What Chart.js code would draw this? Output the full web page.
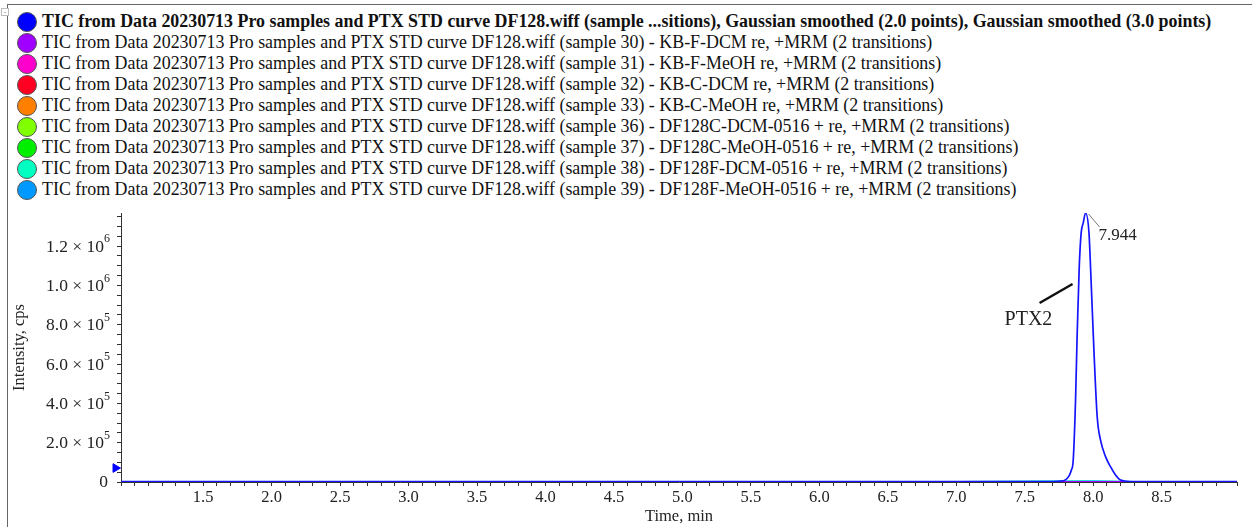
<!DOCTYPE html>
<html>
<head>
<meta charset="utf-8">
<script src="https://cdn.jsdelivr.net/npm/chart.js@4.4.0/dist/chart.umd.min.js"></script>
<style>
    html, body { margin: 0; padding: 0; background: #fff; }
    #wrap { position: relative; width: 1252px; height: 527px; overflow: hidden; }
    #frame { position: absolute; left: 7px; top: 4px; right: 0; bottom: 0; border-left: 1px solid #666; border-top: 1px solid #666; }
    #collapse { position: absolute; left: 1px; top: 8px; width: 6px; height: 6px; border: 1px solid #bbb; background: #fff; font: 8px/6px sans-serif; color: #888; text-align: center; }
    #legend { position: absolute; left: 17px; top: 11px; font-family: "Liberation Serif", "Times New Roman", serif; font-size: 17.9px; color: #111; }
    .row { height: 21px; line-height: 21px; white-space: nowrap; display: flex; align-items: center; }
    .dot { width: 20px; height: 20px; border-radius: 50%; border: 1px solid #555; box-sizing: border-box; margin-right: 5px; flex: none; }
    .row.first { font-weight: bold; }
    canvas { position: absolute; left: 0; top: 0; }
</style>
</head>
<body>
<div id="wrap">
    <div id="frame"></div>
    <div id="collapse">-</div>
    <div id="legend"></div>
    <canvas id="chart" width="1252" height="527"></canvas>
</div>
<script>
// Legend entries
const legendLabels = [
    'TIC from Data 20230713 Pro samples and PTX STD curve DF128.wiff (sample ...sitions), Gaussian smoothed (2.0 points), Gaussian smoothed (3.0 points)',
    'TIC from Data 20230713 Pro samples and PTX STD curve DF128.wiff (sample 30) - KB-F-DCM re, +MRM (2 transitions)',
    'TIC from Data 20230713 Pro samples and PTX STD curve DF128.wiff (sample 31) - KB-F-MeOH re, +MRM (2 transitions)',
    'TIC from Data 20230713 Pro samples and PTX STD curve DF128.wiff (sample 32) - KB-C-DCM re, +MRM (2 transitions)',
    'TIC from Data 20230713 Pro samples and PTX STD curve DF128.wiff (sample 33) - KB-C-MeOH re, +MRM (2 transitions)',
    'TIC from Data 20230713 Pro samples and PTX STD curve DF128.wiff (sample 36) - DF128C-DCM-0516 + re, +MRM (2 transitions)',
    'TIC from Data 20230713 Pro samples and PTX STD curve DF128.wiff (sample 37) - DF128C-MeOH-0516 + re, +MRM (2 transitions)',
    'TIC from Data 20230713 Pro samples and PTX STD curve DF128.wiff (sample 38) - DF128F-DCM-0516 + re, +MRM (2 transitions)',
    'TIC from Data 20230713 Pro samples and PTX STD curve DF128.wiff (sample 39) - DF128F-MeOH-0516 + re, +MRM (2 transitions)'
];
const seriesColors = ['#0000ff', '#a000ff', '#ff00cc', '#ff0022', '#ff8000', '#80ff00', '#00ee00', '#00ffc0', '#0099ff'];

// Smoothed TIC of the standard (blue trace)
const stdTime = [0.9, 2.0, 3.0, 4.0, 5.0, 6.0, 7.0, 7.5, 7.7, 7.76, 7.8, 7.82, 7.84, 7.854, 7.871, 7.883, 7.898, 7.912,
    7.927, 7.944, 7.969, 7.985, 8.005, 8.029, 8.053, 8.09, 8.126, 8.163, 8.2, 8.27, 8.5, 9.05];
const stdIntensity = [2000, 2000, 2000, 2000, 2000, 2000, 2000, 2000, 2500, 4000, 12000, 27000, 60000, 112000, 417000, 758000, 1096000, 1267000,
    1318000, 1368000, 1267000, 1013000, 672000, 332000, 214000, 129000, 78000, 36000, 10000, 2500, 2000, 2000];

// Sample traces (all near baseline)
const sampleTime = [0.9, 3.0, 5.0, 7.0, 7.8, 8.0, 8.3, 9.05];
const sampleIntensity = [
    [1200, 1200, 1200, 1200, 1300, 1400, 1200, 1200],
    [1100, 1100, 1100, 1100, 1200, 1300, 1100, 1100],
    [1000, 1000, 1000, 1000, 1100, 1200, 1000, 1000],
    [1000, 1000, 1000, 1000, 1100, 1200, 1000, 1000],
    [1300, 1300, 1300, 1300, 1500, 1700, 1300, 1300],
    [1300, 1300, 1300, 1300, 1600, 1800, 1300, 1300],
    [1500, 1500, 1500, 1500, 4000, 4500, 1500, 1500],
    [1400, 1400, 1400, 1400, 4500, 5000, 1400, 1400]
];

// Axis ranges and tick steps
const xRange = [0.9, 9.05];
const yRange = [0, 1368000];
const yMinorStep = 50000;
const yLabelStep = 200000;

// Threshold marker on the left of the axis
const markerPoint = [{ x: 0.86, y: 71000 }];

// Peak annotation
const peakTime = 7.944;
const peakIntensity = 1368000;
const peakName = 'PTX2';

// Build legend
const legendEl = document.getElementById('legend');
legendLabels.forEach((text, i) => {
    const row = document.createElement('div');
    row.className = 'row' + (i === 0 ? ' first' : '');
    const dot = document.createElement('span');
    dot.className = 'dot';
    dot.style.background = seriesColors[i];
    row.appendChild(dot);
    row.appendChild(document.createTextNode(text));
    legendEl.appendChild(row);
});

const datasets = [{
    label: legendLabels[0],
    data: stdTime.map((t, i) => ({ x: t, y: stdIntensity[i] })),
    borderColor: '#1414ff',
    borderWidth: 1.7,
    pointRadius: 0,
    cubicInterpolationMode: 'monotone',
    fill: false
}];
sampleIntensity.forEach((vals, k) => {
    datasets.push({
        label: legendLabels[k + 1],
        data: sampleTime.map((t, i) => ({ x: t, y: vals[i] })),
        borderColor: seriesColors[k + 1],
        borderWidth: 1.4,
        pointRadius: 0,
        fill: false
    });
});
datasets.unshift({
    label: 'marker',
    type: 'scatter',
    data: markerPoint,
    pointStyle: 'triangle',
    rotation: 90,
    radius: 5,
    backgroundColor: '#0000ff',
    borderColor: '#0000ff',
    clip: false
});

const serif = '"Liberation Serif", "Times New Roman", serif';

function splitSci(v) {
    if (Math.abs(v) < 1) return { mant: '0', exp: '' };
    const e = Math.floor(Math.log10(v) + 1e-9);
    const m = v / Math.pow(10, e);
    return { mant: m.toFixed(1) + ' × 10', exp: String(e) };
}

// y tick labels with a raised exponent
const sciTicks = {
    id: 'sciTicks',
    afterDraw(chart) {
        const { ctx } = chart;
        const y = chart.scales.y;
        const right = y.right - 11;
        ctx.save();
        ctx.fillStyle = '#222';
        ctx.textBaseline = 'middle';
        ctx.textAlign = 'right';
        y.ticks.forEach(t => {
            const r = t.value / yLabelStep;
            if (Math.abs(r - Math.round(r)) > 1e-6) return;
            const py = y.getPixelForValue(t.value);
            const { mant, exp } = splitSci(t.value);
            if (!exp) {
                ctx.font = '17.5px ' + serif;
                ctx.fillText(mant, right - 2, py);
                return;
            }
            ctx.font = '12px ' + serif;
            const ew = ctx.measureText(exp).width;
            ctx.fillText(exp, right, py - 7);
            ctx.font = '17.5px ' + serif;
            ctx.fillText(mant, right - ew, py + 1);
        });
        ctx.restore();
    }
};

// Peak labels
const peakLabels = {
    id: 'peakLabels',
    afterDatasetsDraw(chart) {
        const { ctx, scales } = chart;
        const px = scales.x.getPixelForValue(peakTime);
        const py = scales.y.getPixelForValue(peakIntensity);
        ctx.save();
        ctx.strokeStyle = '#777';
        ctx.lineWidth = 1;
        ctx.beginPath();
        ctx.moveTo(px + 3, py + 1);
        ctx.lineTo(px + 14, py + 14);
        ctx.stroke();
        ctx.fillStyle = '#222';
        ctx.font = '17px ' + serif;
        ctx.textBaseline = 'middle';
        ctx.fillText(peakTime.toFixed(3), px + 13, py + 23);

        ctx.strokeStyle = '#111';
        ctx.lineWidth = 2.5;
        ctx.beginPath();
        ctx.moveTo(px - 46, py + 90);
        ctx.lineTo(px - 13, py + 71);
        ctx.stroke();
        ctx.font = '20px ' + serif;
        ctx.fillText(peakName, px - 81, py + 107);
        ctx.restore();
    }
};

new Chart(document.getElementById('chart'), {
    type: 'line',
    data: { datasets },
    options: {
        responsive: false,
        animation: false,
        layout: { padding: { top: 213, right: 15, left: 0, bottom: 0 } },
        plugins: {
            legend: { display: false },
            tooltip: { enabled: false }
        },
        scales: {
            x: {
                type: 'linear',
                min: xRange[0],
                max: xRange[1],
                afterFit(scale) { scale.height = 45; },
                grid: { drawOnChartArea: false, drawTicks: true, tickLength: 4, tickColor: '#333' },
                border: { color: '#333' },
                ticks: {
                    stepSize: 0.1,
                    autoSkip: false,
                    maxRotation: 0,
                    color: '#222',
                    font: { family: serif, size: 16.5 },
                    padding: 2,
                    callback(v) {
                        if (v < 1.2) return '';
                        return Math.abs(v * 2 - Math.round(v * 2)) < 1e-6 ? v.toFixed(1) : '';
                    }
                },
                title: {
                    display: true,
                    text: 'Time, min',
                    color: '#222',
                    font: { family: serif, size: 16.5 },
                    padding: { top: 0, bottom: 0 }
                }
            },
            y: {
                min: yRange[0],
                max: yRange[1],
                afterFit(scale) { scale.width = 121; },
                afterBuildTicks(scale) {
                    const ticks = [];
                    for (let v = yRange[0]; v <= yRange[1]; v += yMinorStep) ticks.push({ value: v });
                    scale.ticks = ticks;
                },
                grid: { drawOnChartArea: false, drawTicks: true, tickLength: 4, tickColor: '#333' },
                border: { color: '#333' },
                ticks: { display: false },
                title: {
                    display: true,
                    text: 'Intensity, cps',
                    color: '#222',
                    font: { family: serif, size: 16.5 },
                    padding: { top: 10, bottom: 0 }
                }
            }
        }
    },
    plugins: [peakLabels, sciTicks]
});
</script>
</body>
</html>
